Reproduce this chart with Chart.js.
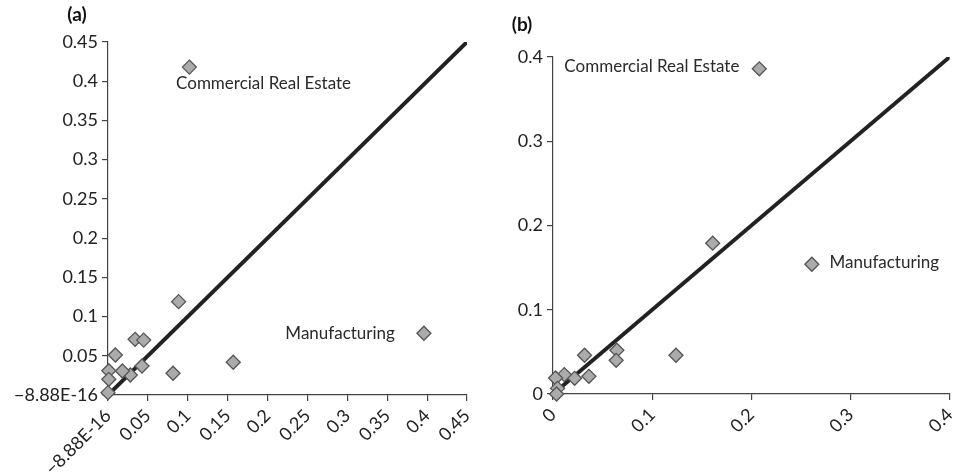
<!DOCTYPE html>
<html>
<head>
<meta charset="utf-8">
<script src="https://cdn.jsdelivr.net/npm/chart.js@4.4.1/dist/chart.umd.min.js"></script>
<style>
  html, body { margin: 0; padding: 0; background: #fff; }
  .panel { position: absolute; top: 0; width: 479px; height: 474px; }
</style>
</head>
<body>
<div class="panel" style="left:0"><canvas id="chartA" width="479" height="474"></canvas></div>
<div class="panel" style="left:479px"><canvas id="chartB" width="479" height="474"></canvas></div>
<script>
// panel (a)
const puntosAx = [0.102, 0.0885, 0.396, 0.157, 0.0815, 0.034, 0.0447, 0.0426, 0.028, 0.018, 0.0092, 0.001, 0.001, 0.0];
const puntosAy = [0.418, 0.119, 0.0787, 0.0417, 0.0277, 0.071, 0.070, 0.037, 0.0255, 0.0306, 0.051, 0.031, 0.020, 0.003];
const ticksA = [0, 0.05, 0.1, 0.15, 0.2, 0.25, 0.3, 0.35, 0.4, 0.45];
const etiquetasA = ['Commercial Real Estate', 'Manufacturing'];
const etiquetasAx = [0.195, 0.291];
const etiquetasAy = [0.397, 0.079];

// panel (b)
const puntosBx = [0.208, 0.261, 0.161, 0.124, 0.0644, 0.0637, 0.0318, 0.0362, 0.0218, 0.0114, 0.0026, 0.0046, 0.0036];
const puntosBy = [0.386, 0.154, 0.179, 0.046, 0.052, 0.040, 0.046, 0.021, 0.0186, 0.023, 0.019, 0.0067, 0.0];
const ticksB = [0, 0.1, 0.2, 0.3, 0.4];
const etiquetasB = ['Commercial Real Estate', 'Manufacturing'];
const etiquetasBx = [0.0997, 0.334];
const etiquetasBy = [0.389, 0.156];

const FUENTE = 'Lato, "Open Sans", sans-serif';
const CERO = '\u22128.88E-16';

function textoPlugin(panel, etiquetas, ex, ey) {
  return {
    id: 'texto' + panel,
    afterDatasetsDraw(chart) {
      const ctx = chart.ctx;
      const x = chart.scales.x, y = chart.scales.y;
      ctx.save();
      ctx.fillStyle = '#2a2a2a';
      ctx.font = '17px ' + FUENTE;
      ctx.textAlign = 'center';
      ctx.textBaseline = 'middle';
      etiquetas.forEach((t, i) => {
        ctx.fillText(t, x.getPixelForValue(ex[i]), y.getPixelForValue(ey[i]));
      });
      ctx.font = 'bold 19px ' + FUENTE;
      ctx.fillStyle = '#111';
      ctx.fillText('(' + panel + ')', panel === 'a' ? 77 : 43, panel === 'a' ? 15 : 25);
      ctx.restore();
    }
  };
}

function crearGrafico(id, panel, xs, ys, ticks, etiquetas, ex, ey, caja, formato) {
  const max = ticks[ticks.length - 1];
  const eje = (pos) => ({
    type: 'linear',
    min: 0,
    max: max,
    afterBuildTicks: (s) => { s.ticks = ticks.map((v) => ({ value: v })); },
    grid: { drawOnChartArea: false, drawTicks: true, tickLength: 6, color: '#444', lineWidth: 1.2 },
    border: { display: true, color: '#444', width: 1.2 },
    ticks: {
      color: '#222',
      font: { family: FUENTE, size: 18 },
      padding: 4,
      minRotation: pos === 'x' ? 45 : 0,
      maxRotation: pos === 'x' ? 45 : 0,
      callback: (v) => formato(v),
    },
    afterFit: (s) => {
      if (pos === 'x') s.height = caja.abajo;
      else s.width = caja.izq;
      s.paddingLeft = 0;
      s.paddingRight = 0;
      s.paddingTop = 0;
      s.paddingBottom = 0;
    },
  });
  new Chart(document.getElementById(id), {
    type: 'scatter',
    data: {
      datasets: [
        {
          label: 'puntos',
          data: xs.map((x, i) => ({ x, y: ys[i] })),
          pointStyle: 'rectRot',
          pointRadius: 7,
          backgroundColor: '#ababab',
          borderColor: '#555',
          borderWidth: 1.3,
          clip: false,
          order: 0,
        },
        {
          label: 'linea',
          type: 'line',
          data: [{ x: 0, y: 0 }, { x: max, y: max }],
          borderColor: '#222',
          borderWidth: 4,
          pointRadius: 0,
          fill: false,
          order: 1,
        },
      ],
    },
    options: {
      responsive: false,
      animation: false,
      layout: { padding: { top: caja.arriba, right: caja.der, left: 0, bottom: 0 } },
      plugins: { legend: { display: false }, tooltip: { enabled: false } },
      scales: { x: eje('x'), y: eje('y') },
    },
    plugins: [textoPlugin(panel, etiquetas, ex, ey)],
  });
}

const fmt = (v) => (Math.abs(v) < 1e-9 ? CERO : String(Number(v.toFixed(2))));
const fmtB = (v) => String(Number(v.toFixed(2)));

crearGrafico('chartA', 'a', puntosAx, puntosAy, ticksA, etiquetasA, etiquetasAx, etiquetasAy,
  { izq: 108, abajo: 79, arriba: 42, der: 12 }, fmt);
crearGrafico('chartB', 'b', puntosBx, puntosBy, ticksB, etiquetasB, etiquetasBx, etiquetasBy,
  { izq: 74, abajo: 80, arriba: 57, der: 8 }, fmtB);
</script>
</body>
</html>
